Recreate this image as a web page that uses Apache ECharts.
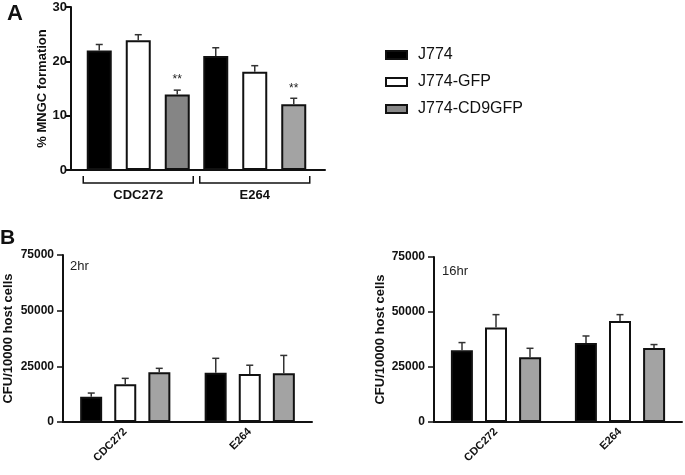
<!DOCTYPE html>
<html><head><meta charset="utf-8">
<script src="https://cdn.jsdelivr.net/npm/echarts@6/dist/echarts.min.js"></script>
<style>html,body{margin:0;padding:0;background:#fff}#c{width:685px;height:475px}</style>
</head><body><div id="c"></div>
<script>
// ---------- data ----------
const seriesNames = ['J774', 'J774-GFP', 'J774-CD9GFP'];
const groupsA = ['CDC272', 'E264'];
const groupsB = ['CDC272', 'E264'];

// Panel A: % MNGC formation (mean, mean+SEM)
const aJ774 = [22.0, 21.0];
const aJ774Err = [23.1, 22.5];
const aGFP = [23.9, 18.1];
const aGFPErr = [24.9, 19.2];
const aCD9 = [13.9, 12.1];
const aCD9Err = [14.7, 13.2];
const aSig = ['**', '**'];
const aTicks = [0, 10, 20, 30];

// Panel B 2hr: CFU/10000 host cells
const b2J774 = [11300, 22100];
const b2J774Err = [13000, 28600];
const b2GFP = [16900, 21600];
const b2GFPErr = [19600, 25500];
const b2CD9 = [22300, 21900];
const b2CD9Err = [24100, 29900];

// Panel B 16hr
const b16J774 = [32600, 35900];
const b16J774Err = [36100, 39100];
const b16GFP = [42900, 45900];
const b16GFPErr = [48800, 48800];
const b16CD9 = [29400, 33600];
const b16CD9Err = [33500, 35200];
const bTicks = [0, 25000, 50000, 75000];

// ---------- styles ----------
const FONT = 'Liberation Sans, Arial, sans-serif';
const fillA = ['#000000', '#ffffff', '#888888'];
const grayShadesA = ['#858585', '#a3a3a3'];
const fillB = ['#000000', '#ffffff', '#a3a3a3'];

const chart = echarts.init(document.getElementById('c'), null, {renderer: 'canvas'});

function barSeries(name, vals, color, xi, yi, bw, gap, itemColors) {
  return {
    name: name, type: 'bar', xAxisIndex: xi, yAxisIndex: yi,
    barWidth: bw, barGap: gap,
    itemStyle: {color: color, borderColor: '#111', borderWidth: 2},
    data: vals.map((v, i) => itemColors ? {value: v, itemStyle: {color: itemColors[i]}} : v),
    emphasis: {disabled: true}, animation: false
  };
}
function errSeries(xi, yi, means, uppers, offset, capW, stars) {
  return {
    type: 'custom', xAxisIndex: xi, yAxisIndex: yi, z: 3, animation: false, silent: true,
    data: means.map((m, i) => [i, m, uppers[i]]),
    renderItem: function (params, api) {
      const p0 = api.coord([api.value(0), api.value(1)]);
      const p1 = api.coord([api.value(0), api.value(2)]);
      const x = p0[0] + offset;
      const ch = [
        {type: 'line', shape: {x1: x, y1: p0[1], x2: x, y2: p1[1]}, style: {stroke: '#333', lineWidth: 1.5}},
        {type: 'line', shape: {x1: x - capW / 2, y1: p1[1], x2: x + capW / 2, y2: p1[1]}, style: {stroke: '#333', lineWidth: 1.5}}
      ];
      if (stars) {
        ch.push({type: 'text', style: {x: x, y: p1[1] - 10, text: stars[params.dataIndex], fill: '#222',
          font: '12px ' + FONT, align: 'center', verticalAlign: 'middle'}});
      }
      return {type: 'group', children: ch};
    }
  };
}
function bracketSeries(xi, yi, n) {
  return {
    type: 'custom', xAxisIndex: xi, yAxisIndex: yi, clip: false, silent: true, animation: false,
    data: Array.from({length: n}, (_, i) => [i, 0]),
    renderItem: function (params, api) {
      const p = api.coord([api.value(0), 0]);
      const half = 55;
      const y0 = p[1] + 6, y1 = p[1] + 13;
      return {type: 'polyline', shape: {points: [[p[0] - half, y0], [p[0] - half, y1], [p[0] + half, y1], [p[0] + half, y0]]},
        style: {stroke: '#111', lineWidth: 1.5, fill: null}};
    }
  };
}

const plain = v => String(v);
const yLabel = {color: '#111', fontWeight: 'bold', fontFamily: FONT};
const axLine = {lineStyle: {color: '#111', width: 2}};

const option = {
  backgroundColor: '#fff',
  animation: false,
  title: [
    {text: 'A', left: 7, top: 3, padding: 0, textStyle: {fontSize: 22, fontWeight: 'bold', color: '#111', fontFamily: FONT}},
    {text: 'B', left: 0, top: 228, padding: 0, textStyle: {fontSize: 21, fontWeight: 'bold', color: '#111', fontFamily: FONT}},
    {text: '2hr', left: 65, top: 255, textStyle: {fontSize: 13, fontWeight: 'normal', color: '#222', fontFamily: FONT}},
    {text: '16hr', left: 437, top: 260, textStyle: {fontSize: 13, fontWeight: 'normal', color: '#222', fontFamily: FONT}}
  ],
  legend: {
    data: seriesNames, orient: 'vertical', left: 380, top: 42,
    itemWidth: 21, itemHeight: 8, itemGap: 11, icon: 'rect',
    textStyle: {fontSize: 16, color: '#111', fontFamily: FONT, padding: [0, 0, 0, 6]},
    selectedMode: false
  },
  grid: [
    {left: 80, right: 372, top: 7, bottom: 305},
    {left: 71, right: 360, top: 7, bottom: 305},
    {left: 63, right: 373, top: 255, bottom: 53},
    {left: 434, right: 3, top: 257, bottom: 53}
  ],
  xAxis: [
    {type: 'category', gridIndex: 0, data: groupsA, axisLine: {show: false}, axisTick: {show: false},
      axisLabel: {margin: 19, fontSize: 13, fontWeight: 'bold', color: '#111', fontFamily: FONT}},
    {type: 'value', gridIndex: 1, min: 0, max: 1, axisLine: Object.assign({show: true}, axLine), axisTick: {show: false},
      axisLabel: {show: false}, splitLine: {show: false}},
    {type: 'category', gridIndex: 2, data: groupsB, axisLine: axLine,
      axisTick: {alignWithLabel: true, length: 6, lineStyle: {color: '#111', width: 1.5}},
      axisLabel: Object.assign({rotate: 45, fontSize: 11, margin: 8}, yLabel)},
    {type: 'category', gridIndex: 3, data: groupsB, axisLine: axLine,
      axisTick: {alignWithLabel: true, length: 6, lineStyle: {color: '#111', width: 1.5}},
      axisLabel: Object.assign({rotate: 45, fontSize: 11, margin: 8}, yLabel)}
  ],
  yAxis: [
    {type: 'value', gridIndex: 0, min: 0, max: 30, show: false},
    {type: 'value', gridIndex: 1, min: aTicks[0], max: aTicks[aTicks.length - 1], interval: 10,
      axisLine: Object.assign({show: true}, axLine), axisTick: {show: true, length: 5, lineStyle: {color: '#111', width: 2}},
      axisLabel: Object.assign({fontSize: 13, margin: 4, formatter: plain}, yLabel), splitLine: {show: false},
      name: '% MNGC formation', nameLocation: 'middle', nameGap: 17,
      nameTextStyle: {fontSize: 13, fontWeight: 'bold', color: '#111', fontFamily: FONT}},
    {type: 'value', gridIndex: 2, min: bTicks[0], max: bTicks[bTicks.length - 1], interval: 25000,
      axisLine: Object.assign({show: true}, axLine), axisTick: {show: true, length: 6, lineStyle: {color: '#111', width: 1.5}},
      axisLabel: Object.assign({fontSize: 12, margin: 9, formatter: plain}, yLabel), splitLine: {show: false},
      name: 'CFU/10000 host cells', nameLocation: 'middle', nameGap: 48,
      nameTextStyle: {fontSize: 13, fontWeight: 'bold', color: '#111', fontFamily: FONT}},
    {type: 'value', gridIndex: 3, min: bTicks[0], max: bTicks[bTicks.length - 1], interval: 25000,
      axisLine: Object.assign({show: true}, axLine), axisTick: {show: true, length: 6, lineStyle: {color: '#111', width: 1.5}},
      axisLabel: Object.assign({fontSize: 12, margin: 9, formatter: plain}, yLabel), splitLine: {show: false},
      name: 'CFU/10000 host cells', nameLocation: 'middle', nameGap: 47,
      nameTextStyle: {fontSize: 13, fontWeight: 'bold', color: '#111', fontFamily: FONT}}
  ],
  series: [
    barSeries(seriesNames[0], aJ774, fillA[0], 0, 0, 25, '56%'),
    barSeries(seriesNames[1], aGFP, fillA[1], 0, 0, 25, '56%'),
    barSeries(seriesNames[2], aCD9, fillA[2], 0, 0, 25, '56%', grayShadesA),
    errSeries(0, 0, aJ774, aJ774Err, -39, 7),
    errSeries(0, 0, aGFP, aGFPErr, 0, 7),
    errSeries(0, 0, aCD9, aCD9Err, 39, 7, aSig),
    bracketSeries(0, 0, groupsA.length),

    barSeries(seriesNames[0], b2J774, fillB[0], 2, 2, 22, '55%'),
    barSeries(seriesNames[1], b2GFP, fillB[1], 2, 2, 22, '55%'),
    barSeries(seriesNames[2], b2CD9, fillB[2], 2, 2, 22, '55%'),
    errSeries(2, 2, b2J774, b2J774Err, -34, 7),
    errSeries(2, 2, b2GFP, b2GFPErr, 0, 7),
    errSeries(2, 2, b2CD9, b2CD9Err, 34, 7),

    barSeries(seriesNames[0], b16J774, fillB[0], 3, 3, 22, '55%'),
    barSeries(seriesNames[1], b16GFP, fillB[1], 3, 3, 22, '55%'),
    barSeries(seriesNames[2], b16CD9, fillB[2], 3, 3, 22, '55%'),
    errSeries(3, 3, b16J774, b16J774Err, -34, 7),
    errSeries(3, 3, b16GFP, b16GFPErr, 0, 7),
    errSeries(3, 3, b16CD9, b16CD9Err, 34, 7)
  ]
};
chart.setOption(option);
</script></body></html>
